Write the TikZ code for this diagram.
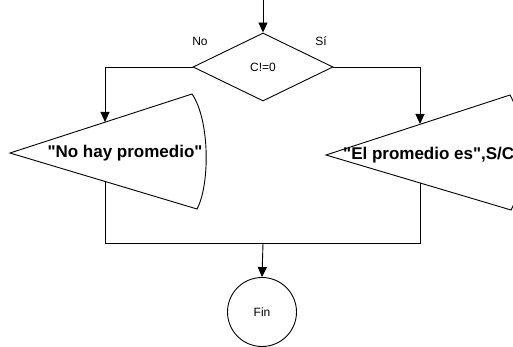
\documentclass[tikz,border=0pt]{standalone}
\usepackage{fontspec}
\setmainfont{Liberation Sans}[Ligatures=TeXOff]
\usetikzlibrary{arrows.meta,shapes.geometric}
\tikzset{
  ln/.style={line width=0.9pt,black},
  arr/.style={ln,-{Triangle[length=10pt,width=9pt]}},
  small/.style={font=\fontsize{12}{14}\selectfont,inner sep=0pt},
  big/.style={font=\fontsize{17}{20}\selectfont\bfseries,inner sep=0pt},
}
\begin{document}
\begin{tikzpicture}[x=1pt,y=-1pt]
\useasboundingbox (0,0) rectangle (513,347);
\clip (0,0) rectangle (513,347);
% decision
\node[draw,ln,diamond,minimum width=140pt,minimum height=68pt,inner sep=0pt,small] (dec) at (263,67) {C!=0};
\node[small] (no) at (200,41) {No};
\node[small] (si) at (321,41) {Sí};
\coordinate (start) at (263,0);
\draw[arr] (start) -- (dec.north);
% left display
\coordinate (lt) at (10,153);
\coordinate (ltr) at (192,94);
\coordinate (lbr) at (197,209);
\draw[ln,fill=white] (lt) -- (ltr) .. controls (210,120) and (210,185) .. (lbr) -- cycle;
\node[big] (ltext) at (125,153) {"No hay promedio"};
\coordinate (lin) at (105,122);
\coordinate (lout) at (105,181);
% right display
\coordinate (rt) at (326,155);
\coordinate (rtr) at (510,95);
\coordinate (rbr) at (511,210);
\draw[ln,fill=white] (rt) -- (rtr) .. controls (525,120) and (525,185) .. (rbr) -- cycle;
\node[big,anchor=west] (rtext) at (343,155) {"El promedio es",S/C};
\coordinate (rin) at (420,124);
\coordinate (rout) at (420,183);
% connectors
\draw[arr] (dec.west) -| (lin);
\draw[arr] (dec.east) -| (rin);
\coordinate (jl) at (105,243);
\coordinate (jr) at (420,243);
\coordinate (jm) at (263,243);
\draw[ln] (lout) -- (jl) -- (jr) -- (rout);
% end
\node[draw,ln,circle,minimum size=69pt,inner sep=0pt,small] (fin) at (262,312) {Fin};
\draw[arr] (jm) -- (fin.north);
\end{tikzpicture}
\end{document}
